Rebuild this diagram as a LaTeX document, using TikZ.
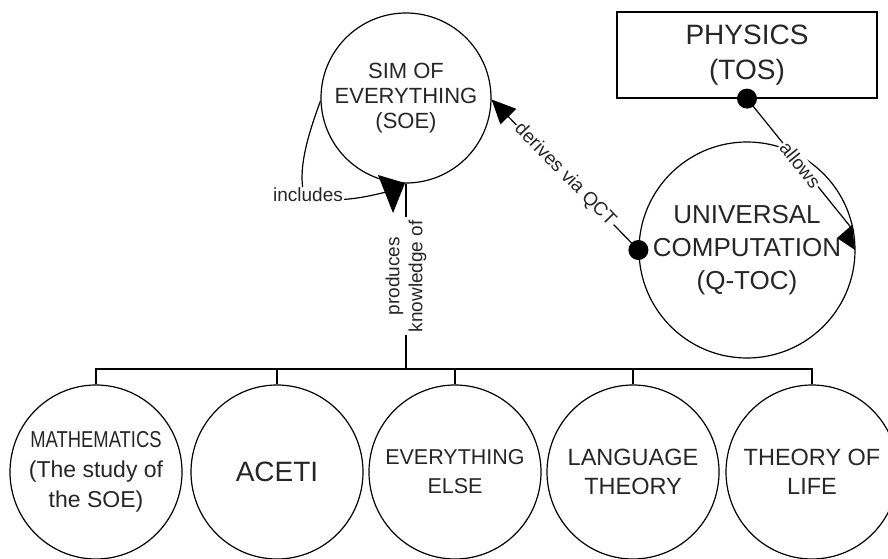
\documentclass[tikz,border=0pt]{standalone}
\usepackage{fontspec}
\usepackage{graphicx}
\setmainfont{Liberation Sans}
\usetikzlibrary{shapes.geometric,arrows.meta}
\newcommand{\myfs}[2]{\fontsize{#1}{#2}\selectfont}
\begin{document}
\begin{tikzpicture}[x=1pt,y=-1pt,
 ln/.style={line width=1.2pt},
 bub/.style={draw,line width=1.2pt,ellipse,inner sep=0pt,minimum width=172pt,minimum height=174pt},
 ring/.style={draw,line width=1.2pt,circle,inner sep=0pt},
 lbl/.style={fill=white,inner sep=1.5pt,font=\myfs{19}{23},align=center,text=black!85},
 dotn/.style={circle,fill=black,inner sep=0pt,minimum size=20pt},
 head/.style={fill=black},
 bt/.style={align=center,text=black!85}]
\useasboundingbox (0,0) rectangle (888,559);
% main nodes
\node[ring,minimum size=170pt,label={[bt,font=\myfs{22}{25}]center:{SIM OF\\EVERYTHING\\(SOE)}}] (soe) at (406,98) {};
\node[draw,line width=1.2pt,rectangle,minimum width=260pt,minimum height=86pt,inner sep=0pt,bt,font=\myfs{28}{35}] (phys) at (747,55) {PHYSICS\\(TOS)};
\node[ring,minimum size=216pt,label={[bt,font=\myfs{26}{33}]center:{UNIVERSAL\\COMPUTATION\\(Q-TOC)}}] (qtoc) at (747,250) {};
% bottom nodes
\node[bub,label={[bt,font=\myfs{23}{30}]center:{\scalebox{0.8}[1]{MATHEMATICS}\\(The study of\\the SOE)}}] (m1) at (96,472) {};
\node[bub,label={[bt,font=\myfs{28}{32}]center:{ACETI}}] (m2) at (277,472) {};
\node[bub,label={[bt,font=\myfs{21.5}{29}]center:{EVERYTHING\\ELSE}}] (m3) at (455,472) {};
\node[bub,label={[bt,font=\myfs{23.5}{29}]center:{LANGUAGE\\THEORY}}] (m4) at (633,472) {};
\node[bub,label={[bt,font=\myfs{23.5}{29}]center:{THEORY OF\\LIFE}}] (m5) at (812,472) {};
% dots
\node[dotn] (pdot) at (phys.south) {};
\node[dotn] (qdot) at (qtoc.west) {};
% bus
\coordinate (bus) at (406,369);
\coordinate (b1) at (96,369);
\coordinate (b2) at (277,369);
\coordinate (b3) at (455,369);
\coordinate (b4) at (633,369);
\coordinate (b5) at (812,369);
\draw[ln] (m1.north) -- (b1) -- (b5) -- (m5.north);
\draw[ln] (m2.north) -- (b2);
\draw[ln] (m3.north) -- (b3);
\draw[ln] (m4.north) -- (b4);
\draw[ln] (soe.south) -- (bus) node[lbl,pos=0.5,rotate=90,inner sep=3pt] {produces\\knowledge of};
% derives via QCT
\draw[ln,-{Triangle[length=24pt,width=22pt]}] (qdot.center) -- (soe.-1) node[lbl,midway,sloped] {derives via QCT};
% allows
\coordinate (aend) at (qtoc.10);
\draw[ln] (pdot.center) -- (aend) node[lbl,pos=0.5,sloped] {allows};
\fill[head] (837,238) -- (852,225) -- (855,250) -- cycle;
% includes
\coordinate (iend) at (386,192);
\draw[ln] (soe.182) .. controls (308,135) and (299,165) .. (303,190) .. controls (320,205) and (355,200) .. (iend);
\node[lbl] (inc) at (308,195) {includes};
\fill[head] (378,175) -- (405,183) -- (393,213) -- cycle;
\end{tikzpicture}
\end{document}
